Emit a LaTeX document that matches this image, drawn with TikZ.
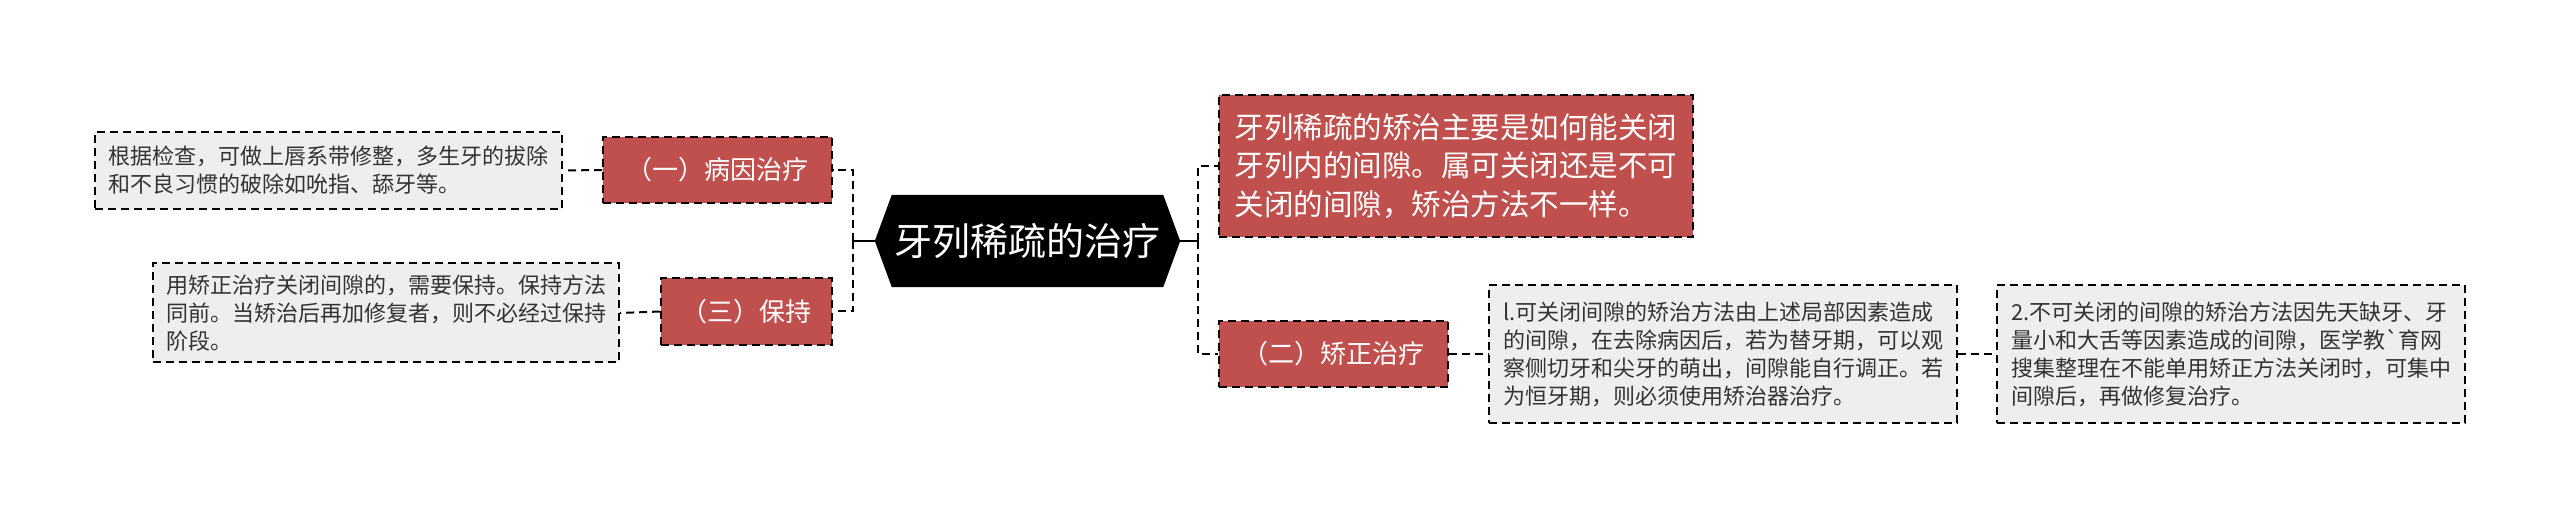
\documentclass[tikz,border=0pt]{standalone}
\usepackage{fontspec}
\setmainfont[Ligatures=TeXOff]{Noto Sans CJK SC}
\usetikzlibrary{calc}
\pgfdeclarelayer{bg}
\pgfsetlayers{bg,main}
\definecolor{redfill}{HTML}{C0504D}
\definecolor{grayfill}{HTML}{EEEEEE}
\definecolor{txtgray}{HTML}{333333}
\tikzset{
  dashborder/.style={draw=black, line width=2pt, dash pattern=on 8pt off 5pt},
  graybox/.style={dashborder, fill=grayfill, text=txtgray, align=left, inner sep=0pt,
    font=\fontsize{22}{28}\selectfont},
  redbox/.style={dashborder, line width=1.6pt, fill=redfill, text=white, inner sep=0pt,
    font=\fontsize{26}{32}\selectfont},
  redbig/.style={dashborder, line width=1.6pt, fill=redfill, text=white, inner sep=0pt, align=left,
    font=\fontsize{29.5}{38.5}\selectfont},
  conn/.style={line width=2pt, dash pattern=on 8pt off 5pt},
  mainconn/.style={line width=2.5pt},
  centre/.style={text=white, inner sep=0pt, font=\fontsize{38}{42}\selectfont},
}
\begin{document}
\begin{tikzpicture}[x=1pt, y=-1pt]
\useasboundingbox (0,0) rectangle (2560,518);

% central node
\node[centre, minimum width=305pt, minimum height=92pt] (c) at (1027.5,241) {牙列稀疏的治疗};
\begin{pgfonlayer}{bg}
\fill[black] (c.west) -- ($(c.north west)+(17,0)$) -- ($(c.north east)+(-17,0)$) -- (c.east)
  -- ($(c.south east)+(-17,0)$) -- ($(c.south west)+(17,0)$) -- cycle;
\end{pgfonlayer}

% left side
\node[redbox, minimum width=229pt, minimum height=66pt] (r1) at (717.5,170) {（一）病因治疗};
\node[redbox, minimum width=171pt, minimum height=67pt] (r3) at (746.5,311.5) {（三）保持};
\node[graybox, minimum width=467pt, minimum height=77pt] (g1) at (328.5,170.5)
  {根据检查，可做上唇系带修整，多生牙的拔除\\和不良习惯的破除如吮指、舔牙等。};
\node[graybox, minimum width=466pt, minimum height=99pt] (g3) at (386,313)
  {用矫正治疗关闭间隙的，需要保持。保持方法\\同前。当矫治后再加修复者，则不必经过保持\\阶段。};

% right side
\node[redbig, minimum width=474pt, minimum height=142pt] (r0) at (1456,166)
  {牙列稀疏的矫治主要是如何能关闭\\牙列内的间隙。属可关闭还是不可\\关闭的间隙，矫治方法不一样。};
\node[redbox, minimum width=229pt, minimum height=66pt] (r2) at (1333.5,354) {（二）矫正治疗};
\node[graybox, minimum width=468pt, minimum height=138pt] (g4) at (1723,354)
  {l.可关闭间隙的矫治方法由上述局部因素造成\\的间隙，在去除病因后，若为替牙期，可以观\\察侧切牙和尖牙的萌出，间隙能自行调正。若\\为恒牙期，则必须使用矫治器治疗。};
\node[graybox, minimum width=468pt, minimum height=138pt] (g5) at (2231,354)
  {2.不可关闭的间隙的矫治方法因先天缺牙、牙\\量小和大舌等因素造成的间隙，医学教`育网\\搜集整理在不能单用矫正方法关闭时，可集中\\间隙后，再做修复治疗。};

% trunks
\coordinate (tl) at (853,241);
\coordinate (tr) at (1198,241);

\draw[mainconn] (c.west) -- (tl);
\draw[mainconn] (c.east) -- (tr);
\draw[conn] (tl) |- (r1.east);
\draw[conn] (tl) |- (r3.east);
\draw[conn] (tr) |- (r0.west);
\draw[conn] (tr) |- (r2.west);
\draw[conn] (r1.west) -- (g1.east);
\draw[conn] (r3.west) -- (g3.east);
\draw[conn] (r2.east) -- (g4.west);
\draw[conn] (g4.east) -- (g5.west);
\end{tikzpicture}
\end{document}
